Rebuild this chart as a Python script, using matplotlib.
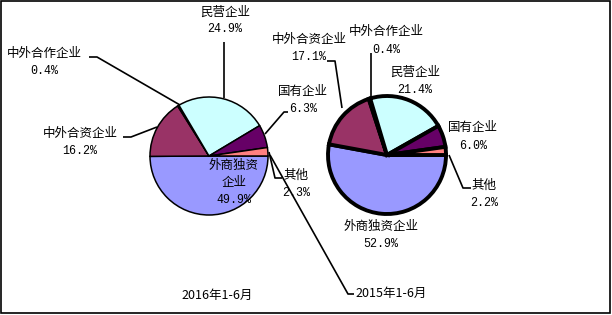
import matplotlib
matplotlib.use("Agg")
import matplotlib.pyplot as plt
from matplotlib.patches import Rectangle

plt.rcParams['font.family'] = ['Noto Sans CJK SC', 'DejaVu Sans']

# ---- data ----
categories = ["外商独资企业", "中外合资企业", "中外合作企业", "民营企业", "国有企业", "其他"]
share_2016 = [49.9, 16.2, 0.4, 24.9, 6.3, 2.3]
share_2015 = [52.9, 17.1, 0.4, 21.4, 6.0, 2.2]
period_labels = ["2016年1-6月", "2015年1-6月"]
colors = ["#9999FF", "#993366", "#FFFFCC", "#CCFFFF", "#660066", "#FF8080"]

# ---- layout (pixel coordinates, y downward) ----
W, H = 612, 315
fig = plt.figure(figsize=(W / 100, H / 100), dpi=100)
ax = fig.add_axes([0, 0, 1, 1])

pies = [
    dict(values=share_2016, center=(209, 156), radius=59, lw=1.1),
    dict(values=share_2015, center=(387, 155), radius=59, lw=2.8),
]

for p in pies:
    ax.pie(p["values"], colors=colors, startangle=0, counterclock=True,
           center=p["center"], radius=p["radius"], frame=True,
           wedgeprops=dict(edgecolor="black", linewidth=p["lw"]))

ax.set_xlim(0, W)
ax.set_ylim(H, 0)
ax.set_aspect("auto")
ax.axis("off")

# label positions: (x center, y of first line)
label_pos_2016 = {
    "外商独资企业": (234, 165),
    "中外合资企业": (80, 133),
    "中外合作企业": (44, 53),
    "民营企业": (225, 12),
    "国有企业": (303, 92),
    "其他": (296, 175),
}
label_pos_2015 = {
    "外商独资企业": (381, 226),
    "中外合资企业": (309, 39),
    "中外合作企业": (386, 32),
    "民营企业": (415, 72),
    "国有企业": (473, 128),
    "其他": (484, 185),
}
wrap_2016 = {"外商独资企业": ["外商独资", "企业"]}

FS = 9
NUM_FONT = dict(family=["Liberation Mono", "DejaVu Sans Mono"], fontsize=8.4)


def draw_labels(values, positions, wraps, gap):
    for cat, val in zip(categories, values):
        x, y = positions[cat]
        lines = wraps.get(cat, [cat])
        for i, line in enumerate(lines):
            ax.text(x, y + i * gap, line, ha="center", va="center",
                    fontsize=FS, color="black")
        ax.text(x, y + len(lines) * gap, f"{val:.1f}%", ha="center",
                va="center", color="black", **NUM_FONT)


draw_labels(share_2016, label_pos_2016, wrap_2016, 17.5)
draw_labels(share_2015, label_pos_2015, {}, 18)

# leader lines
leaders = [
    [(224, 42), (224, 98)],
    [(89, 57), (97, 57), (180, 105)],
    [(123, 137), (131, 137), (157, 127)],
    [(288, 112), (284, 112), (265, 134)],
    [(269, 152), (275, 178), (282, 178)],
    [(270, 155), (348, 294), (354, 294)],
    [(327, 61), (335, 61), (342, 108)],
    [(371, 53), (371, 97)],
    [(449, 155), (463, 188), (471, 188)],
]
for pts in leaders:
    xs, ys = zip(*pts)
    ax.plot(xs, ys, color="black", lw=1.2, solid_capstyle="butt")

# period titles
ax.text(217, 295, period_labels[0], ha="center", va="center", fontsize=FS)
ax.text(391, 293, period_labels[1], ha="center", va="center", fontsize=FS)

# outer frame
ax.add_patch(Rectangle((0.5, 1), 609.5, 312, fill=False, edgecolor="black",
                       lw=1.2, clip_on=False))

fig.savefig("out.png", dpi=100)
